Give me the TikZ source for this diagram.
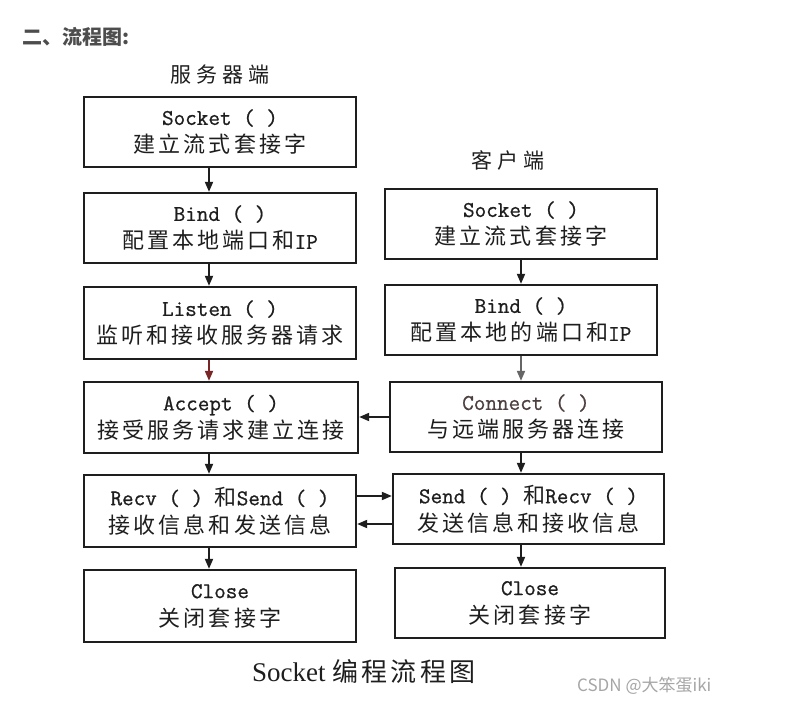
\documentclass[tikz,border=0pt]{standalone}
\usepackage{fontspec}
\setmainfont{Liberation Serif}
\newfontfamily\cjk[LetterSpace=14]{Noto Sans CJK SC}
\newfontfamily\cjkhead[LetterSpace=24]{Noto Sans CJK SC}
\newfontfamily\cjkcap[LetterSpace=12]{Noto Sans CJK SC}
\newfontfamily\cjkplain{Noto Sans CJK SC}
\newfontfamily\latmono[FakeBold=0.8]{Latin Modern Mono}
\usetikzlibrary{arrows.meta}
\newcommand\zh[1]{{\cjk\fontsize{22}{28}\selectfont #1}}
\newcommand\lt[1]{{\latmono\fontsize{22.5}{28}\selectfont #1}}
\definecolor{ink}{HTML}{1E1E1E}
\definecolor{titlegray}{HTML}{4D4D4D}
\definecolor{wmgray}{HTML}{A6A6A6}
\definecolor{redarrow}{HTML}{7A2626}
\definecolor{connectc}{HTML}{4E4040}
\begin{document}
\begin{tikzpicture}[x=1pt,y=-1pt,
  box/.style={draw=ink, line width=2.3pt, minimum width=272pt, minimum height=70pt,
    inner sep=0pt, align=center, text=ink, font=\fontsize{20}{28}\selectfont},
  arr/.style={draw=ink, line width=1.8pt, -{Triangle[length=10pt,width=8pt]}},
  lbl/.style={inner sep=0pt, text=ink}]
\fill[white] (0,0) rectangle (804,709);
\useasboundingbox (0,0) rectangle (804,709);

% title
\node[anchor=west, inner sep=0pt, text=titlegray, font=\cjkplain\bfseries\fontsize{20}{20}\selectfont] (title) at (22,37) {二、流程图:};

% column headings
\node[lbl, font=\cjkhead\fontsize{21}{21}\selectfont] (hs) at (220,75) {服务器端};
\node[lbl, font=\cjkhead\fontsize{21}{21}\selectfont] (hc) at (508,160) {客户端};

% server boxes
\node[box] (s1) at (220,132) {\lt{Socket ( )}\\\zh{建立流式套接字}};
\node[box] (s2) at (220,228) {\lt{Bind ( )}\\\zh{配置本地端口和}\lt{IP}};
\node[box, minimum height=72pt] (s3) at (220,323) {\lt{Listen ( )}\\\zh{监听和接收服务器请求}};
\node[box, minimum width=274pt, minimum height=71pt] (s4) at (221,417.5) {\lt{Accept ( )}\\\zh{接受服务请求建立连接}};
\node[box, minimum height=72pt] (s5) at (220,511) {\lt{Recv ( ) }\zh{和}\lt{Send ( )}\\\zh{接收信息和发送信息}};
\node[box, minimum height=72pt] (s6) at (220,606) {\lt{Close}\\\zh{关闭套接字}};

% client boxes
\node[box] (c1) at (521,224) {\lt{Socket ( )}\\\zh{建立流式套接字}};
\node[box] (c2) at (521,320) {\lt{Bind ( )}\\\zh{配置本地的端口和}\lt{IP}};
\node[box] (c3) at (526,417) {{\color{connectc}\lt{Connect ( )}}\\\zh{与远端服务器连接}};
\node[box, minimum width=271pt] (c4) at (528.5,509) {\lt{Send ( ) }\zh{和}\lt{Recv ( )}\\\zh{发送信息和接收信息}};
\node[box, minimum width=270pt] (c5) at (530,603) {\lt{Close}\\\zh{关闭套接字}};

% helper coordinates
\coordinate (sx) at (209,0);
\coordinate (cx) at (521,0);
\coordinate (h1) at (0,496);
\coordinate (h2) at (0,524);

% server arrows
\draw[arr] (s1.south -| sx) -- (s2.north -| sx);
\draw[arr] (s2.south -| sx) -- (s3.north -| sx);
\draw[arr, draw=redarrow] (s3.south -| sx) -- (s4.north -| sx);
\draw[arr] (s4.south -| sx) -- (s5.north -| sx);
\draw[arr] (s5.south -| sx) -- (s6.north -| sx);

% client arrows
\draw[arr] (c1.south -| cx) -- (c2.north -| cx);
\draw[arr, draw=black!60] (c2.south -| cx) -- (c3.north -| cx);
\draw[arr] (c3.south -| cx) -- (c4.north -| cx);
\draw[arr] (c4.south -| cx) -- (c5.north -| cx);

% cross arrows
\draw[arr] (c3.west) -- (c3.west -| s4.east);
\draw[arr] (s5.east |- h1) -- (c4.west |- h1);
\draw[arr] (c4.west |- h2) -- (s5.east |- h2);

% caption
\node[lbl, anchor=west] (cap) at (252,672) {{\fontsize{27}{27}\selectfont Socket}\hspace{7pt}{\cjkcap\fontsize{26}{26}\selectfont 编程流程图}};

% watermark
\node[anchor=west, inner sep=0pt, text=wmgray, font=\cjkplain\fontsize{17}{17}\selectfont] (wm) at (577,686) {CSDN @大笨蛋iki};
\end{tikzpicture}
\end{document}
